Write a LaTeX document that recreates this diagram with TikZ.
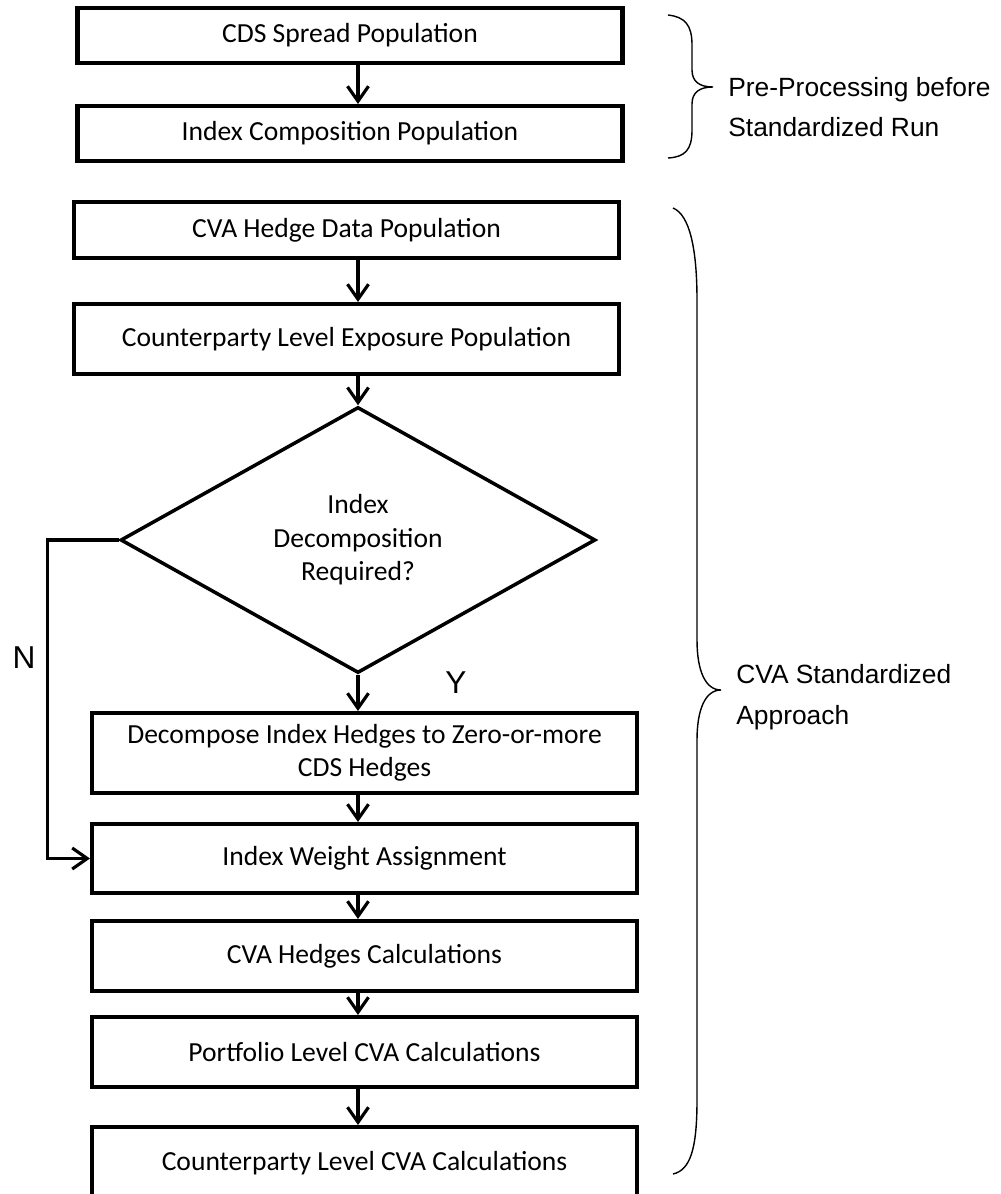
\documentclass[tikz,border=0pt]{standalone}
\usepackage{fontspec}
\setmainfont{Carlito}
\newfontfamily\arialfont{Liberation Sans}
\usetikzlibrary{shapes.geometric, arrows.meta, calc}

\begin{document}
\begin{tikzpicture}[x=0.2mm, y=-0.2mm,
  stepbox/.style={draw, line width=2.3pt, minimum width=109mm, inner sep=2pt, align=center, font=\fontsize{15.7}{19}\selectfont},
  decide/.style={draw, diamond, line width=2pt, minimum width=95mm, minimum height=53.2mm, aspect=1.786, inner sep=0pt, align=center, font=\fontsize{15.7}{19}\selectfont},
  flow/.style={line width=1.8pt, -{Straight Barb[length=3mm, width=4.2mm]}},
  bracket/.style={line width=0.8pt},
  note/.style={font=\arialfont\fontsize{15}{23}\selectfont, align=left, anchor=west, inner sep=0pt},
  branch/.style={font=\arialfont\fontsize{18}{20}\selectfont}]
\useasboundingbox (0,0) rectangle (1000,1194);

\node[stepbox, minimum height=11mm] (cds) at (350,35.5) {CDS Spread Population};
\node[stepbox, minimum height=11mm] (comp) at (350,133.5) {Index Composition Population};
\node[stepbox, minimum height=11.2mm] (hedge) at (346.5,230) {CVA Hedge Data Population};
\node[stepbox, minimum height=14mm] (expo) at (346.5,339) {Counterparty Level Exposure Population};
\node[decide] (dec) at (358,540) {Index\\Decomposition\\Required?};
\node[stepbox, minimum height=16mm] (decomp) at (364.5,753) {Decompose Index Hedges to Zero-or-more\\CDS Hedges};
\node[stepbox, minimum height=13.8mm] (weight) at (364.5,858.5) {Index Weight Assignment};
\node[stepbox, minimum height=14mm] (calc) at (364.5,956) {CVA Hedges Calculations};
\node[stepbox, minimum height=14mm] (port) at (364.5,1052) {Portfolio Level CVA Calculations};
\node[stepbox, minimum height=14.4mm] (cpty) at (364.5,1163) {Counterparty Level CVA Calculations};

\foreach \a/\b in {cds/comp, hedge/expo, decomp/weight, weight/calc, calc/port, port/cpty}
  \draw[flow] (\a.south -| dec.north) -- (\b.north -| dec.north);
\draw[flow] (expo.south -| dec.north) -- (dec.north);
\draw[flow] (dec.south) -- (dec.south |- decomp.north);
\draw[flow] (dec.west) -- ++(-71,0) |- (weight.west);

\node[branch] (nlab) at (24,658) {N};
\node[branch] (ylab) at (456,683) {Y};

\draw[bracket] (668,15) .. controls (685,17) and (692,25) .. (692,45) -- (692,70)
  .. controls (692,82) and (700,87) .. (713,87) .. controls (700,87) and (692,92) .. (692,104)
  -- (692,130) .. controls (692,150) and (685,157) .. (668,158);
\draw[bracket] (673,208) .. controls (690,215) and (697,250) .. (697,300) -- (697,640)
  .. controls (697,670) and (705,690) .. (721,690) .. controls (705,690) and (697,710) .. (697,740)
  -- (697,1100) .. controls (697,1150) and (690,1170) .. (673,1174);

\node[note] (pre) at (728,107) {Pre-Processing before\\Standardized Run};
\node[note] (std) at (736,697) {CVA Standardized\\Approach};
\end{tikzpicture}
\end{document}
